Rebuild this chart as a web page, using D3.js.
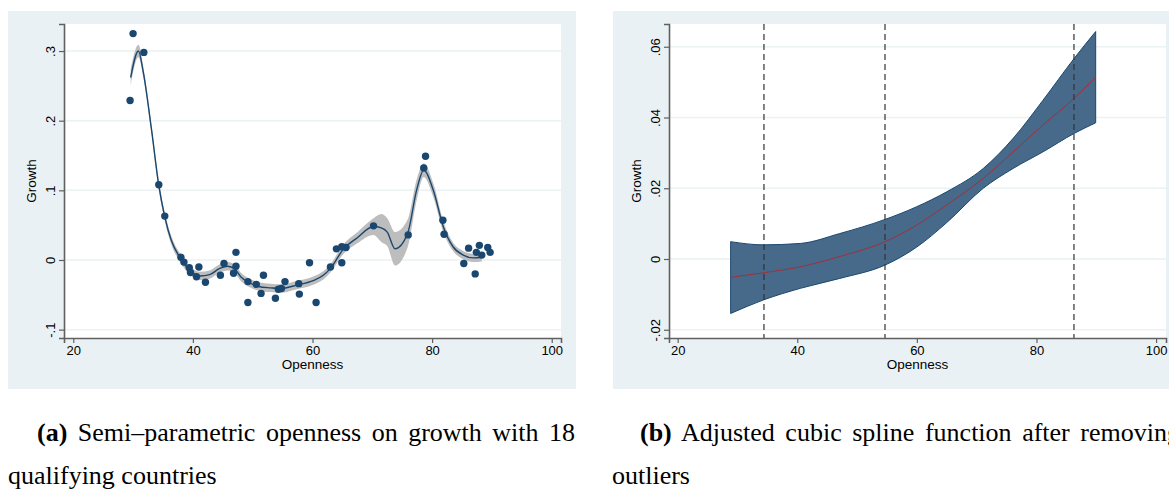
<!DOCTYPE html>
<html><head><meta charset="utf-8">
<script src="https://cdn.jsdelivr.net/npm/d3@7"></script>
<style>
html,body{margin:0;padding:0;background:#fff;}
svg{display:block;}
</style></head>
<body>
<svg id="c" width="1169" height="490"></svg>
<script>
// ---- Panel (a) data ----
const scatterX = [29.5,30.0,31.8,34.3,35.3,38.0,38.5,39.4,39.6,40.6,41.0,42.1,44.6,45.2,47.2,47.2,46.8,49.2,49.2,50.6,51.4,51.8,53.8,54.3,54.8,55.4,57.7,57.8,59.5,60.6,63.0,64.0,64.9,64.9,65.6,70.2,76.0,78.6,78.9,81.8,82.0,85.3,86.1,87.2,87.4,87.9,88.3,89.3,89.7];
const scatterY = [0.229,0.325,0.298,0.108,0.063,0.004,-0.003,-0.011,-0.018,-0.024,-0.010,-0.032,-0.022,-0.005,0.011,-0.009,-0.019,-0.031,-0.061,-0.035,-0.048,-0.022,-0.055,-0.042,-0.041,-0.031,-0.034,-0.049,-0.004,-0.061,-0.010,0.016,0.019,-0.004,0.018,0.049,0.036,0.132,0.149,0.057,0.037,-0.005,0.017,-0.020,0.011,0.021,0.007,0.018,0.011];
const fitX  = [29.6,30.9,31.7,33.1,34.3,35.3,36.4,37.8,39.5,41.2,42.8,44.5,45.8,47.0,48.0,49.5,51.0,53.0,54.6,57.4,60.0,61.8,63.0,65.2,67.5,70.2,71.5,72.5,73.8,75.9,77.4,78.6,80.2,81.9,83.5,85.2,86.9,88.3];
const fitY  = [0.262,0.300,0.270,0.186,0.107,0.062,0.028,0.004,-0.015,-0.023,-0.021,-0.012,-0.009,-0.013,-0.024,-0.033,-0.038,-0.040,-0.041,-0.036,-0.030,-0.022,-0.012,0.016,0.032,0.048,0.046,0.040,0.016,0.038,0.100,0.129,0.100,0.047,0.019,0.007,0.003,0.004];
const fitLo = [0.250,0.291,0.263,0.180,0.101,0.056,0.022,-0.002,-0.021,-0.029,-0.027,-0.018,-0.015,-0.019,-0.030,-0.039,-0.044,-0.046,-0.047,-0.042,-0.036,-0.028,-0.018,0.009,0.024,0.036,0.026,0.020,-0.008,0.018,0.085,0.119,0.090,0.039,0.013,0.001,-0.003,-0.002];
const fitHi = [0.274,0.309,0.277,0.192,0.113,0.068,0.034,0.010,-0.009,-0.017,-0.015,-0.006,-0.003,-0.007,-0.018,-0.027,-0.032,-0.034,-0.035,-0.030,-0.024,-0.016,-0.006,0.023,0.040,0.060,0.066,0.060,0.040,0.058,0.115,0.139,0.110,0.055,0.025,0.013,0.009,0.010];
const ticksXa = [20,40,60,80,100];
const ticksYa = [-0.1,0,0.1,0.2,0.3];
const tickLabYa = ["-.1","0",".1",".2",".3"];

// ---- Panel (b) data ----
const splX   = [28.86,34.3,40.5,47.1,54.7,60.0,65.0,71.1,76.1,81.1,86.3,89.9];
const splFit = [-0.0052,-0.0039,-0.0022,0.0007,0.0049,0.0096,0.0153,0.0228,0.0303,0.0379,0.0454,0.0514];
const splLo  = [-0.0154,-0.0116,-0.0083,-0.0055,-0.0017,0.0034,0.0103,0.0200,0.0256,0.0303,0.0355,0.0385];
const splHi  = [0.0049,0.0040,0.0044,0.0072,0.0112,0.0148,0.0190,0.0256,0.0341,0.0449,0.0567,0.0643];
const knots  = [34.43,54.67,86.27];
const ticksXb = [20,40,60,80,100];
const ticksYb = [-0.02,0,0.02,0.04,0.06];
const tickLabYb = ["-.02","0",".02",".04",".06"];

const xTitle = "Openness", yTitle = "Growth";
const capA1 = "Semi\u2013parametric openness on growth with 18", capA2 = "qualifying countries";
const capB1 = "Adjusted cubic spline function after removing", capB2 = "outliers";

const svg = d3.select("#c");
const bgCol = "#eaf1f4", gridCol = "#eaf2f3", navy = "#1a476f", axisCol = "#606060";
const sans = "'Liberation Sans', Arial, sans-serif";

function panel(o){
  const g = svg.append("g");
  g.append("rect").attr("x",o.bx).attr("y",11).attr("width",568).attr("height",378).attr("fill",bgCol);
  g.append("rect").attr("x",o.px0).attr("y",24).attr("width",o.px1-o.px0).attr("height",314).attr("fill","#fff");
  const x = d3.scaleLinear().domain(o.xd).range([o.px0,o.px1]);
  const y = d3.scaleLinear().domain(o.yd).range([338,24]);
  g.selectAll("line.grid").data(o.yt).join("line")
    .attr("x1",o.px0).attr("x2",o.px1).attr("y1",d=>y(d)).attr("y2",d=>y(d))
    .attr("stroke",gridCol).attr("stroke-width",1.5);
  const plot = g.append("g");
  o.draw(plot,x,y);
  const ax = g.append("g").attr("transform","translate(0,338)")
    .call(d3.axisBottom(x).tickValues(o.xt).tickSize(5).tickPadding(3).tickFormat(d3.format("d")));
  const ay = g.append("g").attr("transform",`translate(${o.px0},0)`)
    .call(d3.axisLeft(y).tickValues(o.yt).tickSize(5).tickPadding(3).tickFormat((d,i)=>o.ytl[i]));
  [ax,ay].forEach(a=>{
    a.select(".domain").attr("stroke",axisCol).attr("stroke-width",1.6);
    a.selectAll(".tick line").attr("stroke",axisCol).attr("stroke-width",1.2);
    a.selectAll("text").attr("font-family",sans).attr("font-size",13).attr("fill","#000");
  });
  ax.selectAll("text").attr("dy","0.71em");
  ay.selectAll("text").each(function(){
      d3.select(this).attr("text-anchor","middle").attr("x",null).attr("dy",null)
       .attr("transform","translate(-9,0) rotate(-90)");
    });
  g.append("text").attr("x",(o.px0+o.px1)/2).attr("y",369).attr("text-anchor","middle")
    .attr("font-family",sans).attr("font-size",13.5).text(xTitle);
  g.append("text").attr("transform",`translate(${o.px0-28},${(24+338)/2}) rotate(-90)`)
    .attr("text-anchor","middle").attr("font-family",sans).attr("font-size",13.5).text(yTitle);
}

panel({bx:8, px0:64, px1:561, xd:[18.45,101.55], yd:[-0.112,0.3388], xt:ticksXa, yt:ticksYa, ytl:tickLabYa,
  draw:(p,x,y)=>{
    const idx = d3.range(fitX.length);
    p.append("path").datum(idx)
      .attr("d",d3.area().x(i=>x(fitX[i])).y0(i=>y(fitLo[i])).y1(i=>y(fitHi[i])).curve(d3.curveMonotoneX))
      .attr("fill","#bdbdbd");
    p.append("path").datum(idx)
      .attr("d",d3.line().x(i=>x(fitX[i])).y(i=>y(fitY[i])).curve(d3.curveMonotoneX))
      .attr("fill","none").attr("stroke",navy).attr("stroke-width",1.4);
    p.selectAll("circle").data(d3.range(scatterX.length)).join("circle")
      .attr("cx",i=>x(scatterX[i])).attr("cy",i=>y(scatterY[i])).attr("r",3.7).attr("fill",navy);
  }});

panel({bx:613, px0:669, px1:1166, xd:[18.55,101.66], yd:[-0.02233,0.06643], xt:ticksXb, yt:ticksYb, ytl:tickLabYb,
  draw:(p,x,y)=>{
    const idx = d3.range(splX.length);
    p.append("path").datum(idx)
      .attr("d",d3.area().x(i=>x(splX[i])).y0(i=>y(splLo[i])).y1(i=>y(splHi[i])).curve(d3.curveMonotoneX))
      .attr("fill","#476a8a").attr("stroke",navy).attr("stroke-width",1);
    p.append("path").datum(idx)
      .attr("d",d3.line().x(i=>x(splX[i])).y(i=>y(splFit[i])).curve(d3.curveMonotoneX))
      .attr("fill","none").attr("stroke","#a0303a").attr("stroke-width",1);
    p.selectAll("line.knot").data(knots).join("line")
      .attr("x1",d=>x(d)).attr("x2",d=>x(d)).attr("y1",24).attr("y2",338)
      .attr("stroke","#333").attr("stroke-width",1.2).attr("stroke-dasharray","6,4");
  }});

// captions (first line justified to the panel width, as in the typeset original)
const serif = "'Liberation Serif','Times New Roman',serif";
const capSize = 26;
function caption(x1,x2,xEnd,lab,l1,l2){
  const t = svg.append("text").attr("x",x1).attr("y",441).attr("font-family",serif).attr("font-size",capSize).attr("fill","#000");
  t.append("tspan").attr("font-weight","bold").text(lab);
  t.append("tspan").text(" "+l1);
  const w = t.node().getComputedTextLength();
  const gaps = l1.split(" ").length;
  const extra = (xEnd - x1 - w)/gaps;
  if (extra > 0) t.attr("word-spacing", extra);
  svg.append("text").attr("x",x2).attr("y",484).attr("font-family",serif).attr("font-size",capSize).attr("fill","#000").text(l2);
}
caption(37,8,575,"(a)",capA1,capA2);
caption(640,612,1180,"(b)",capB1,capB2);
</script>
</body></html>
